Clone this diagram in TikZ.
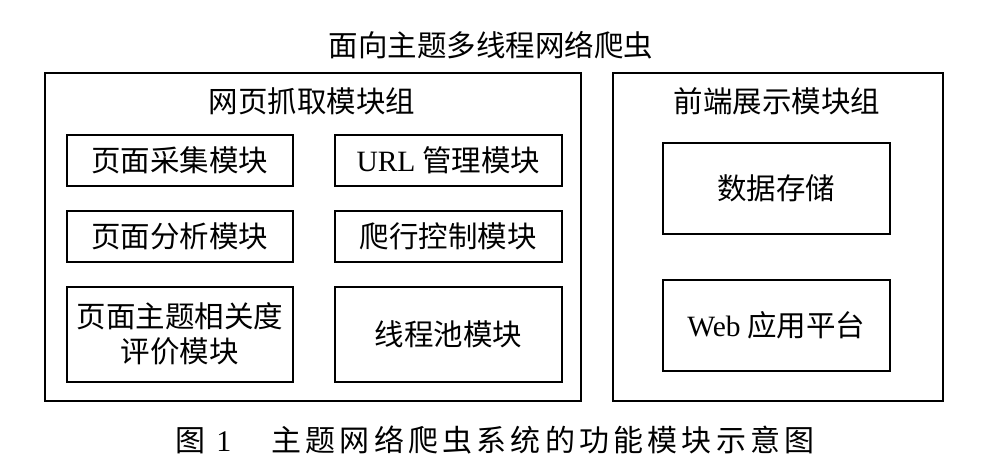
\documentclass[tikz,border=0pt]{standalone}
\usepackage{fontspec}
\setmainfont{Noto Sans CJK SC}
\newfontfamily\lat{Liberation Serif}
\begin{document}
\begin{tikzpicture}[x=1pt,y=-1pt,
  box/.style={draw,line width=1.6pt,inner sep=0pt,anchor=north west,align=center,font=\fontsize{29.5}{35}\selectfont},
  outer/.style={draw,line width=1.6pt,inner sep=0pt,anchor=north west},
  lbl/.style={font=\fontsize{29.5}{34}\selectfont,inner sep=0pt}]
\useasboundingbox (0,0) rectangle (982,470);
\node[lbl] (title) at (491,45) {面向主题多线程网络爬虫};
\node[outer,minimum width=536pt,minimum height=328pt] (left) at (44,72) {};
\node[lbl] (lt) at (312,101) {网页抓取模块组};
\node[box,minimum width=226pt,minimum height=51pt] (a) at (66,134) {页面采集模块};
\node[box,minimum width=227pt,minimum height=51pt] (b) at (334,134) {{\lat URL} 管理模块};
\node[box,minimum width=226pt,minimum height=51pt] (c) at (66,210) {页面分析模块};
\node[box,minimum width=227pt,minimum height=51pt] (d) at (334,210) {爬行控制模块};
\node[box,minimum width=226pt,minimum height=95pt] (e) at (66,286) {页面主题相关度\\评价模块};
\node[box,minimum width=227pt,minimum height=95pt] (f) at (334,286) {线程池模块};
\node[outer,minimum width=330pt,minimum height=328pt] (right) at (612,72) {};
\node[lbl] (rt) at (777,101) {前端展示模块组};
\node[box,minimum width=227pt,minimum height=91pt] (g) at (662,142) {数据存储};
\node[box,minimum width=227pt,minimum height=91pt] (h) at (662,279) {{\lat Web} 应用平台};
\node[lbl,font=\fontsize{30}{34}\selectfont\addfontfeature{LetterSpace=14}] (cap) at (495,440) {图 {\lat 1}\hspace{40pt}主题网络爬虫系统的功能模块示意图};
\end{tikzpicture}
\end{document}
